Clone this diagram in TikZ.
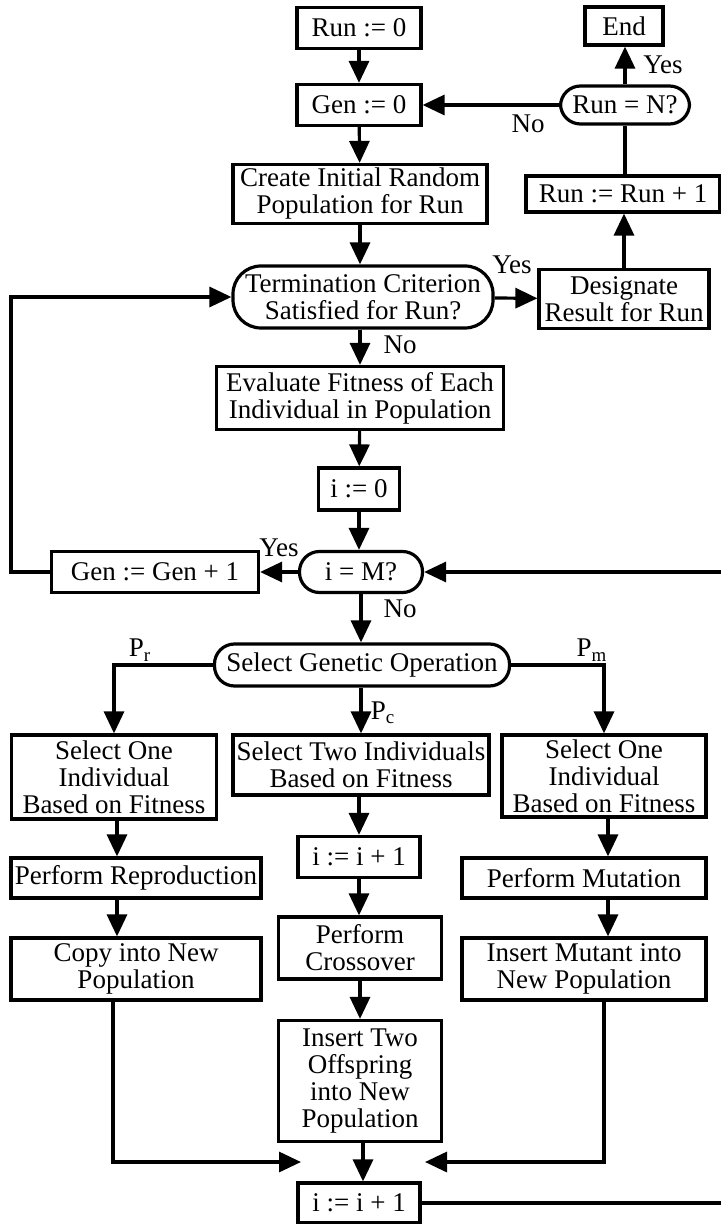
\documentclass[tikz,border=0pt]{standalone}
\usepackage{fontspec}
\setmainfont{Liberation Serif}
\usetikzlibrary{arrows.meta}

\begin{document}
\begin{tikzpicture}[x=0.5pt, y=-0.5pt, >={Triangle[length=11pt,width=10pt]},
  line width=1.6pt,
  font=\fontsize{13.5}{13.5}\selectfont,
  box/.style={draw, line width=1.6pt, align=center, inner sep=1pt},
  decision/.style={box, rounded corners=10pt},
  lbl/.style={inner sep=0pt}]

  \useasboundingbox (0,0) rectangle (720,1224);

  % --- 1. outer loop (runs) ---
  \node[box, minimum width=62pt, minimum height=20.5pt] (run0) at (359,28) {Run := 0};
  \node[box, minimum width=62pt, minimum height=20.5pt] (gen0) at (359,105) {Gen := 0};
  \node[box, minimum width=127pt, minimum height=29.5pt] (create) at (360,194) {Create Initial Random\\Population for Run};
  \node[decision, rounded corners=14pt, minimum width=130pt, minimum height=31pt] (term) at (363,297) {Termination Criterion\\Satisfied for Run?};

  \node[box, minimum width=39pt, minimum height=19pt] (endn) at (624,26) {End};
  \node[decision, minimum width=64.5pt, minimum height=19pt] (runN) at (625,105) {Run = N?};
  \node[box, minimum width=97pt, minimum height=18pt] (runinc) at (623,194) {Run := Run + 1};
  \node[box, minimum width=85pt, minimum height=29.5pt] (design) at (624,299) {Designate\\Result for Run};

  % --- 2. generation loop ---
  \node[box, minimum width=143.5pt, minimum height=31.5pt] (eval) at (360,398) {Evaluate Fitness of Each\\Individual in Population};
  \node[box, minimum width=40.5pt, minimum height=21pt] (i0) at (359,489) {i := 0};
  \node[decision, minimum width=61.5pt, minimum height=20.5pt] (iM) at (361,572) {i = M?};
  \node[box, minimum width=103.5pt, minimum height=20.5pt] (gennext) at (155,572) {Gen := Gen + 1};

  % --- 3. genetic operations ---
  \node[decision, minimum width=147.5pt, minimum height=21pt] (selop) at (362,665) {Select Genetic Operation};

  \node[box, minimum width=102.5pt, minimum height=42pt] (selL) at (114,777) {Select One\\Individual\\Based on Fitness};
  \node[box, minimum width=125pt, minimum height=20pt] (repro) at (136,878) {Perform Reproduction};
  \node[box, minimum width=125pt, minimum height=31pt] (copy) at (136,969) {Copy into New\\Population};

  \node[box, minimum width=128pt, minimum height=30pt] (selC) at (361,765) {Select Two Individuals\\Based on Fitness};
  \node[box, minimum width=61pt, minimum height=20.5pt] (incC) at (359,857) {i := i + 1};
  \node[box, minimum width=81.5pt, minimum height=31pt] (cross) at (360,948) {Perform\\Crossover};
  \node[box, minimum width=81.5pt, minimum height=60.5pt] (instwo) at (360,1081) {Insert Two\\Offspring\\into New\\Population};

  \node[box, minimum width=102pt, minimum height=41pt] (selR) at (604,776) {Select One\\Individual\\Based on Fitness};
  \node[box, minimum width=122pt, minimum height=20pt] (mut) at (584,878) {Perform Mutation};
  \node[box, minimum width=122pt, minimum height=31pt] (insmut) at (584,969) {Insert Mutant into\\New Population};

  \node[box, minimum width=61pt, minimum height=20pt] (incB) at (359,1203) {i := i + 1};

  % --- 4. connectors ---
  \draw[->] (run0) -- (gen0);
  \draw[->] (gen0) -- (create);
  \draw[->] (create) -- (term.north -| create.south);
  \draw[->] (term.south -| create.south) -- (eval);
  \draw[->] (eval) -- (i0);
  \draw[->] (i0) -- (iM.north -| i0.south);
  \draw[->] (iM) -- (gennext);
  \draw[->] (gennext.west) -- (11,572) -- (11,297) -- (term.west);
  \draw[->] (term) -- (design);
  \draw[->] (design) -- (runinc.south -| design.north);
  \draw (runinc.north -| runN.south) -- (runN.south);
  \draw[->] (runN) -- (endn.south -| runN.north);
  \draw[->] (runN.west) -- (runN.west -| gen0.east);

  \draw[->] (iM.south) -- (selop.north -| iM.south);
  \draw[->] (selop.west) -| (selL.north);
  \draw[->] (selop.south -| selC.north) -- (selC.north);
  \draw[->] (selop.east) -| (selR.north);

  \draw[->] (117,0 |- selL.south) -- (117,0 |- repro.north);
  \draw[->] (117,0 |- repro.south) -- (117,0 |- copy.north);
  \draw[->] (selC.south -| incC.north) -- (incC.north);
  \draw[->] (incC) -- (cross.north -| incC.south);
  \draw[->] (cross) -- (instwo);
  \draw[->] (608,0 |- selR.south) -- (608,0 |- mut.north);
  \draw[->] (608,0 |- mut.south) -- (608,0 |- insmut.north);

  \coordinate (jL) at (301,1162);
  \coordinate (jR) at (425,1162);
  \draw[->] (113,0 |- copy.south) |- (jL);
  \draw[->] (604,0 |- insmut.south) |- (jR);
  \draw[->] (instwo.south -| 363,0) -- (incB.north -| 363,0);
  \draw[->] (incB.east) -- (incB.east -| 740,0) -- (iM.east -| 740,0) -- (iM.east);

  % --- 5. labels ---
  \node[lbl] (lNoGen) at (528,124) {No};
  \node[lbl] (lYesEnd) at (663,65) {Yes};
  \node[lbl] (lYesDes) at (512,265) {Yes};
  \node[lbl] (lNoEval) at (400,345) {No};
  \node[lbl] (lYesGen) at (279,548) {Yes};
  \node[lbl] (lNoSel) at (400,609) {No};
  \node[lbl] (lPr) at (140,650) {P\textsubscript{r}};
  \node[lbl] (lPc) at (383,713) {P\textsubscript{c}};
  \node[lbl] (lPm) at (592,650) {P\textsubscript{m}};

\end{tikzpicture}
\end{document}
